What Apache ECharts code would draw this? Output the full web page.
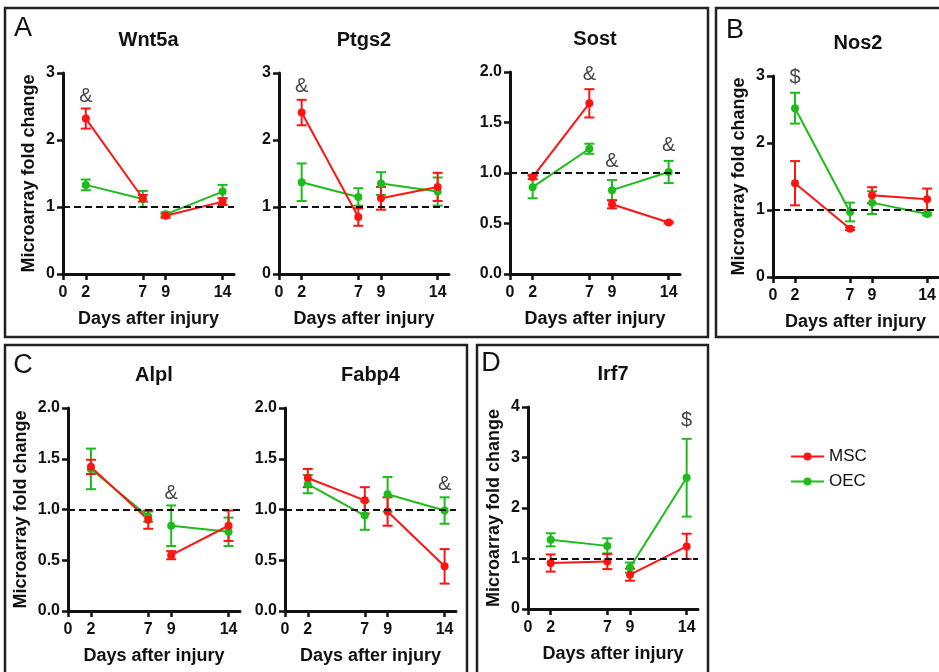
<!DOCTYPE html>
<html>
<head>
<meta charset="utf-8">
<script src="https://cdn.jsdelivr.net/npm/echarts@6/dist/echarts.min.js"></script>
<style>
html,body{margin:0;padding:0;background:#fff;}
#chart{width:939px;height:672px;}
</style>
</head>
<body>
<div id="chart"></div>
<script>
// ---------- data ----------
const days = [2, 7, 9, 14];
const xTicks = [0, 2, 7, 9, 14];
const seriesNames = ['MSC', 'OEC'];

const wnt5a_msc = [2.32, 1.13, 0.87, 1.08];
const wnt5a_msc_err = [0.15, 0.05, 0.03, 0.05];
const wnt5a_oec = [1.33, 1.12, 0.89, 1.23];
const wnt5a_oec_err = [0.08, 0.12, 0.03, 0.10];
const wnt5a_marks = [[2, 2.65, '&']];

const ptgs2_msc = [2.41, 0.85, 1.13, 1.30];
const ptgs2_msc_err = [0.19, 0.13, 0.17, 0.21];
const ptgs2_oec = [1.37, 1.15, 1.35, 1.23];
const ptgs2_oec_err = [0.28, 0.13, 0.17, 0.21];
const ptgs2_marks = [[2, 2.8, '&']];

const sost_msc = [0.96, 1.69, 0.69, 0.51];
const sost_msc_err = [0.02, 0.14, 0.04, 0.01];
const sost_oec = [0.86, 1.24, 0.83, 1.01];
const sost_oec_err = [0.11, 0.05, 0.10, 0.11];
const sost_marks = [[7, 1.98, '&'], [9, 1.11, '&'], [14, 1.27, '&']];

const nos2_msc = [1.40, 0.72, 1.22, 1.16];
const nos2_msc_err = [0.33, 0.02, 0.12, 0.16];
const nos2_oec = [2.52, 0.97, 1.11, 0.94];
const nos2_oec_err = [0.23, 0.14, 0.17, 0.02];
const nos2_marks = [[2, 2.98, '$']];

const alpl_msc = [1.42, 0.90, 0.55, 0.84];
const alpl_msc_err = [0.07, 0.09, 0.04, 0.15];
const alpl_oec = [1.40, 0.93, 0.84, 0.78];
const alpl_oec_err = [0.20, 0.05, 0.20, 0.14];
const alpl_marks = [[9, 1.16, '&']];

const fabp4_msc = [1.31, 1.09, 0.98, 0.44];
const fabp4_msc_err = [0.09, 0.13, 0.14, 0.17];
const fabp4_oec = [1.25, 0.94, 1.15, 0.99];
const fabp4_oec_err = [0.09, 0.14, 0.17, 0.13];
const fabp4_marks = [[14, 1.25, '&']];

const irf7_msc = [0.91, 0.94, 0.68, 1.24];
const irf7_msc_err = [0.17, 0.15, 0.12, 0.25];
const irf7_oec = [1.37, 1.25, 0.82, 2.60];
const irf7_oec_err = [0.13, 0.15, 0.10, 0.77];
const irf7_marks = [[14, 3.73, '$']];

// ---------- layout / style ----------
const FONT = '"Liberation Sans", Arial, Helvetica, sans-serif';
const RED = '#ff1414';
const GREEN = '#1dbb1d';
const INK = '#111';

const panels = [
  {title:'Wnt5a', msc:wnt5a_msc, mscE:wnt5a_msc_err, oec:wnt5a_oec, oecE:wnt5a_oec_err, marks:wnt5a_marks,
   left:63, top:73, width:171, height:201, ymax:3, yint:1, dec:0, yName:true, yGap:25},
  {title:'Ptgs2', msc:ptgs2_msc, mscE:ptgs2_msc_err, oec:ptgs2_oec, oecE:ptgs2_oec_err, marks:ptgs2_marks,
   left:279, top:73, width:170, height:201, ymax:3, yint:1, dec:0, yName:false},
  {title:'Sost', msc:sost_msc, mscE:sost_msc_err, oec:sost_oec, oecE:sost_oec_err, marks:sost_marks,
   left:510, top:72, width:170, height:202, ymax:2, yint:0.5, dec:1, yName:false},
  {title:'Nos2', msc:nos2_msc, mscE:nos2_msc_err, oec:nos2_oec, oecE:nos2_oec_err, marks:nos2_marks,
   left:773, top:76, width:170, height:201, ymax:3, yint:1, dec:0, yName:true, yGap:25},
  {title:'Alpl', msc:alpl_msc, mscE:alpl_msc_err, oec:alpl_oec, oecE:alpl_oec_err, marks:alpl_marks,
   left:68, top:408, width:172, height:203, ymax:2, yint:0.5, dec:1, yName:true, yGap:38},
  {title:'Fabp4', msc:fabp4_msc, mscE:fabp4_msc_err, oec:fabp4_oec, oecE:fabp4_oec_err, marks:fabp4_marks,
   left:285, top:408, width:171, height:203, ymax:2, yint:0.5, dec:1, yName:false},
  {title:'Irf7', msc:irf7_msc, mscE:irf7_msc_err, oec:irf7_oec, oecE:irf7_oec_err, marks:irf7_marks,
   left:528, top:407, width:170, height:202, ymax:4, yint:1, dec:0, yName:true, yGap:25}
];

const segments = [[0, 1], [2, 3]];

const grids = [], xAxes = [], yAxes = [], series = [], graphics = [];

function errRender(color) {
  return function (params, api) {
    const x = api.value(0), v = api.value(1), e = api.value(2);
    const t = api.coord([x, v + e]), b = api.coord([x, v - e]);
    const hw = 5;
    const st = {stroke: color, lineWidth: 2};
    return {type: 'group', children: [
      {type: 'line', shape: {x1: t[0], y1: t[1], x2: b[0], y2: b[1]}, style: st},
      {type: 'line', shape: {x1: t[0] - hw, y1: t[1], x2: t[0] + hw, y2: t[1]}, style: st},
      {type: 'line', shape: {x1: b[0] - hw, y1: b[1], x2: b[0] + hw, y2: b[1]}, style: st}
    ]};
  };
}

panels.forEach((p, i) => {
  grids.push({left: p.left, top: p.top, width: p.width, height: p.height, containLabel: false});
  xAxes.push({
    type: 'value', gridIndex: i, min: 0, max: 15,
    axisLine: {lineStyle: {color: INK, width: 3}},
    axisTick: {customValues: xTicks, length: 6, lineStyle: {color: INK, width: 2.5}},
    axisLabel: {customValues: xTicks, margin: 11, color: INK, fontFamily: FONT, fontSize: 16, fontWeight: 'bold'},
    splitLine: {show: false},
    name: 'Days after injury', nameLocation: 'middle', nameGap: 36,
    nameTextStyle: {color: INK, fontFamily: FONT, fontSize: 18, fontWeight: 'bold'}
  });
  yAxes.push({
    type: 'value', gridIndex: i, min: 0, max: p.ymax, interval: p.yint,
    axisLine: {show: true, lineStyle: {color: INK, width: 3}},
    axisTick: {show: true, length: 6, lineStyle: {color: INK, width: 2.5}},
    axisLabel: {margin: 8, color: INK, fontFamily: FONT, fontSize: 16, fontWeight: 'bold',
      formatter: v => v.toFixed(p.dec)},
    splitLine: {show: false},
    name: p.yName ? 'Microarray fold change' : '', nameLocation: 'middle', nameGap: p.yGap || 25,
    nameTextStyle: {color: INK, fontFamily: FONT, fontSize: 18, fontWeight: 'bold'}
  });

  // reference dashed line at 1
  series.push({
    type: 'line', name: 'ref' + i, xAxisIndex: i, yAxisIndex: i, data: [], z: 1, silent: true,
    markLine: {silent: true, symbol: 'none', label: {show: false},
      lineStyle: {color: INK, type: [7, 4], width: 2}, data: [{yAxis: 1}]}
  });

  const groups = [
    {name: 'OEC', vals: p.oec, errs: p.oecE, color: GREEN},
    {name: 'MSC', vals: p.msc, errs: p.mscE, color: RED}
  ];
  groups.forEach(g => {
    series.push({
      type: 'custom', name: g.name + ' error', xAxisIndex: i, yAxisIndex: i, z: 2, silent: true,
      renderItem: errRender(g.color), encode: {x: 0, y: 1},
      data: days.map((d, k) => [d, g.vals[k], g.errs[k]])
    });
    segments.forEach(seg => {
      series.push({
        type: 'line', name: g.name, xAxisIndex: i, yAxisIndex: i, z: 3,
        symbol: 'circle', symbolSize: 8, showSymbol: true,
        lineStyle: {color: g.color, width: 2}, itemStyle: {color: g.color},
        data: seg.map(k => [days[k], g.vals[k]])
      });
    });
  });

  series.push({
    type: 'scatter', name: 'marks' + i, xAxisIndex: i, yAxisIndex: i, z: 4, silent: true,
    symbol: 'circle', symbolSize: 1, itemStyle: {color: 'rgba(0,0,0,0)'},
    label: {show: true, position: 'inside', formatter: q => q.data[2],
      color: INK, fontFamily: FONT, fontSize: 20},
    data: p.marks
  });

  graphics.push({
    type: 'text', x: p.left + p.width / 2, y: p.top - 33,
    style: {text: p.title, fill: INK, font: 'bold 20px ' + FONT, textAlign: 'center', textVerticalAlign: 'middle'}
  });
});

// panel boxes
[[5, 8, 703, 329], [716, 8, 240, 329], [5, 345, 462, 340], [477, 345, 231, 340]].forEach(r => {
  graphics.push({type: 'rect', shape: {x: r[0], y: r[1], width: r[2], height: r[3]},
    style: {fill: 'none', stroke: '#222', lineWidth: 2.5}});
});
// panel letters
[['A', 23, 29], ['B', 735, 31], ['C', 23, 366], ['D', 491, 364]].forEach(l => {
  graphics.push({type: 'text', x: l[1], y: l[2],
    style: {text: l[0], fill: INK, font: '27px ' + FONT, textAlign: 'center', textVerticalAlign: 'middle'}});
});

const chart = echarts.init(document.getElementById('chart'), null, {renderer: 'canvas'});
chart.setOption({
  animation: false,
  backgroundColor: '#fff',
  grid: grids,
  xAxis: xAxes,
  yAxis: yAxes,
  legend: {
    data: seriesNames, orient: 'vertical', left: 790, top: 448,
    itemWidth: 33, itemHeight: 10, itemGap: 8, padding: 0,
    textStyle: {fontFamily: FONT, fontSize: 17, color: INK}
  },
  series: series,
  graphic: graphics
});
</script>
</body>
</html>
